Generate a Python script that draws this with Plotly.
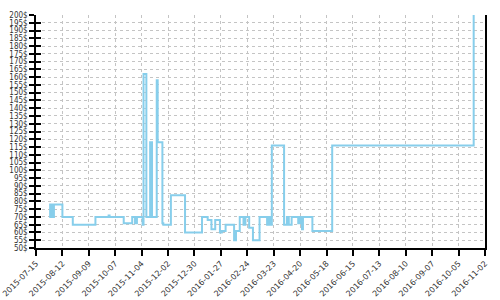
import plotly.graph_objects as go

dates = [
    "2015-07-29", "2015-07-30", "2015-08-01", "2015-08-03", "2015-08-12",
    "2015-08-23", "2015-09-16", "2015-09-30", "2015-10-01", "2015-10-16",
    "2015-10-25", "2015-10-28", "2015-10-30", "2015-11-05", "2015-11-06",
    "2015-11-09", "2015-11-13", "2015-11-15", "2015-11-20", "2015-11-21",
    "2015-11-26", "2015-11-27", "2015-12-05", "2015-12-20", "2016-01-07",
    "2016-01-13", "2016-01-17", "2016-01-21", "2016-01-26", "2016-01-28",
    "2016-02-01", "2016-02-10", "2016-02-12", "2016-02-16", "2016-02-20",
    "2016-02-22", "2016-02-26", "2016-03-01", "2016-03-08", "2016-03-16",
    "2016-03-17", "2016-03-18", "2016-03-19", "2016-03-20", "2016-03-21",
    "2016-04-03", "2016-04-06", "2016-04-08", "2016-04-11", "2016-04-18",
    "2016-04-20", "2016-04-22", "2016-04-23", "2016-05-03", "2016-05-24",
    "2016-10-21",
]
prices = [
    70, 78, 70, 78, 70,
    65, 70, 71, 70, 66,
    70, 66, 70, 65, 162,
    70, 118, 70, 158, 118,
    66, 65, 84, 60, 70,
    68, 62, 68, 60, 61,
    65, 55, 61, 70, 65,
    70, 63, 55, 70, 65,
    70, 65, 70, 65, 116,
    65, 70, 65, 70, 66,
    70, 62, 70, 61, 116,
    230,
]

x_start = "2015-07-15"
x_end = "2016-11-02"
y_min, y_max = 50, 200

fig = go.Figure()
fig.add_trace(go.Scatter(
    x=dates, y=prices, mode="lines",
    line=dict(color="#87CEEB", width=2, shape="hv"),
    showlegend=False, hoverinfo="skip",
))
fig.add_trace(go.Scatter(x=[x_start], y=[y_min], yaxis="y2", mode="markers",
                         marker=dict(opacity=0), showlegend=False, hoverinfo="skip"))

xfont = dict(family="DejaVu Sans", size=8, color="#333")
yfont = dict(family="DejaVu Sans Condensed, DejaVu Sans", size=8, color="#333")
fig.update_layout(
    template="none",
    width=500, height=300,
    margin=dict(l=36, r=15, t=15, b=52, pad=0, autoexpand=False),
    paper_bgcolor="white", plot_bgcolor="white",
    xaxis=dict(
        type="date", range=[x_start, x_end], automargin=False,
        tick0=x_start, dtick=28 * 86400000, tickformat="%Y-%m-%d",
        tickangle=-45, tickfont=xfont,
        showgrid=True, gridcolor="#c4c4c4", griddash="3px,3px", gridwidth=1,
        showline=True, linecolor="black", linewidth=1.5,
        ticks="outside", ticklen=6, tickcolor="black", tickwidth=1.5,
        zeroline=False,
    ),
    yaxis=dict(
        range=[y_min, y_max], dtick=5, tick0=50, ticksuffix="$",
        tickfont=yfont, automargin=False,
        showgrid=True, gridcolor="#c4c4c4", griddash="3px,3px", gridwidth=1,
        showline=True, linecolor="black", linewidth=1.5, mirror=True,
        ticks="outside", ticklen=5, tickcolor="black", tickwidth=1.5,
        zeroline=False,
    ),
    yaxis2=dict(
        overlaying="y", side="left", range=[y_min, y_max], dtick=5, tick0=50,
        showticklabels=False, showgrid=False, showline=False, zeroline=False,
        automargin=False,
        ticks="inside", ticklen=5, tickcolor="black", tickwidth=1.5,
    ),
)
fig.write_html("out.html")
